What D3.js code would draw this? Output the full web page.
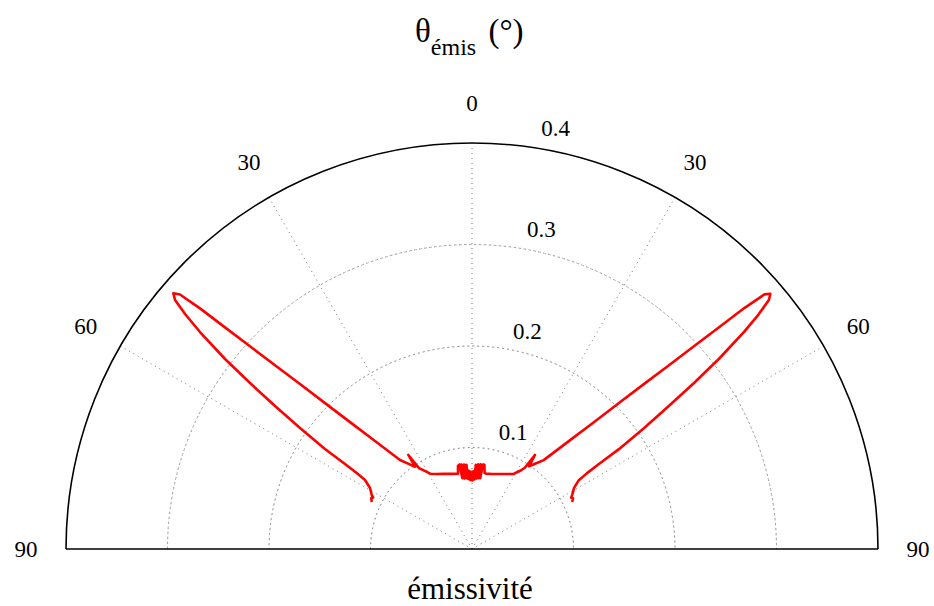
<!DOCTYPE html>
<html>
<head>
<meta charset="utf-8">
<script src="https://cdn.jsdelivr.net/npm/d3@7"></script>
<style>
  html, body { margin: 0; padding: 0; background: #fff; }
  svg { display: block; }
  text { font-family: "Liberation Serif", "Times New Roman", serif; fill: #000; }
</style>
</head>
<body>
<svg id="chart" width="934" height="606"></svg>
<script>
// ---- data (path order, angle in degrees from the normal, left negative) ----
const angles = [
  -64.9, -63.2, -62.5, -61.7, -59.1, -57.2, -56.64, -56.2, -55.77, -54.87, -54.03, -53.21,
  -52.43, -51.42, -50.69, -50.02, -49.43, -48.92, -48.83, -48.5, -48.1, -47.6, -46.99, -46.2,
  -45.22, -43.87, -41.93, -38.97, -36.5, -34.7, -34.1, -33.2, -31.7, -29.0, -26.0, -20.0,
  -15.0, -10.5, -9.6, -8.4, -7.8, -7.0, -6.2, -5.4, -4.6, -3.8, -3.0, -2.2, -1.4, -0.6, 0.2,
  1.0, 1.8, 2.6, 3.4, 4.2, 5.0, 5.8, 6.6, 7.4, 8.4, 9.4, 10.5, 15.0, 20.0, 26.0, 29.0, 31.8, 33.0, 33.8, 34.6,
  36.5, 38.9, 41.9, 43.9, 45.2, 46.2, 47.0, 47.6, 48.1, 48.5, 48.85, 48.95, 49.45,
  50.0, 50.7, 51.4, 52.4, 53.2, 54.0, 54.9, 55.8, 56.2, 56.6, 57.2, 59.1, 61.7, 62.6,
  63.3, 64.9
];
const emissivity = [
  0.1091, 0.1112, 0.1098, 0.1122, 0.1171, 0.1254, 0.1356, 0.1506, 0.1752, 0.2072, 0.2398, 0.2731,
  0.3070, 0.3428, 0.3654, 0.3818, 0.3874, 0.3816, 0.3757, 0.3578, 0.3270, 0.2962, 0.2654, 0.2348,
  0.2040, 0.1734, 0.1430, 0.1128, 0.1040, 0.0986, 0.1119, 0.0950, 0.0914, 0.0848, 0.0822, 0.0788,
  0.0766, 0.0755, 0.0830, 0.0842, 0.0705, 0.0838, 0.0698, 0.0836, 0.0700, 0.0832, 0.0690, 0.0770, 0.0680, 0.0760, 0.0675,
  0.0765, 0.0685, 0.0830, 0.0695, 0.0836, 0.0700, 0.0838, 0.0702, 0.0840, 0.0838, 0.0760, 0.0755, 0.0765, 0.0786, 0.0822, 0.0846, 0.0910, 0.0955, 0.1115, 0.0990,
  0.1045, 0.1125, 0.1428, 0.1736, 0.2045, 0.2350, 0.2658, 0.2965, 0.3275, 0.3582, 0.3760, 0.3820, 0.3868,
  0.3820, 0.3650, 0.3430, 0.3072, 0.2735, 0.2400, 0.2070, 0.1750, 0.1505, 0.1358, 0.1252, 0.1172, 0.1120, 0.1100,
  0.1114, 0.1090
];
const angleTicks = [-90, -60, -30, 0, 30, 60, 90];
const angleTickLabels = ["90", "60", "30", "0", "30", "60", "90"];
const radialTicks = [0.1, 0.2, 0.3, 0.4];
const radialTickLabels = ["0.1", "0.2", "0.3", "0.4"];
const spokeAngles = [-60, -30, 0, 30, 60];

// ---- layout ----
const svg = d3.select("#chart");
const cx = 472, cy = 549, R = 406;
const rScale = d3.scaleLinear().domain([0, 0.4]).range([0, R]);
const rad = d => d * Math.PI / 180;

const g = svg.append("g").attr("transform", `translate(${cx},${cy})`);

// dotted grid circles
const arcGen = d3.arc().startAngle(-Math.PI / 2).endAngle(Math.PI / 2);
g.selectAll("path.grid")
  .data(radialTicks.slice(0, -1))
  .join("path")
  .attr("class", "grid")
  .attr("d", v => arcGen({innerRadius: rScale(v), outerRadius: rScale(v)}))
  .attr("fill", "none")
  .attr("stroke", "#777")
  .attr("stroke-width", 1)
  .attr("stroke-dasharray", "1,4");

// dotted spokes
g.selectAll("line.spoke")
  .data(spokeAngles)
  .join("line")
  .attr("class", "spoke")
  .attr("x1", 0).attr("y1", 0)
  .attr("x2", a => R * Math.sin(rad(a)))
  .attr("y2", a => -R * Math.cos(rad(a)))
  .attr("stroke", "#777")
  .attr("stroke-width", 1)
  .attr("stroke-dasharray", "1,4");

// outer boundary
g.append("path")
  .attr("d", arcGen({innerRadius: R, outerRadius: R}))
  .attr("fill", "none")
  .attr("stroke", "#000")
  .attr("stroke-width", 1.6);
g.append("line")
  .attr("x1", -R).attr("y1", 0).attr("x2", R).attr("y2", 0)
  .attr("stroke", "#000")
  .attr("stroke-width", 1.6);

// angle labels
const labR = R + 40;
g.selectAll("text.alab")
  .data(angleTicks)
  .join("text")
  .attr("class", "alab")
  .attr("x", a => labR * Math.sin(rad(a)))
  .attr("y", a => -labR * Math.cos(rad(a)))
  .attr("text-anchor", "middle")
  .attr("dominant-baseline", "central")
  .attr("font-size", 23)
  .text((a, i) => angleTickLabels[i]);

// radial labels
g.selectAll("text.rlab")
  .data(radialTicks)
  .join("text")
  .attr("class", "rlab")
  .attr("x", v => rScale(v) * Math.sin(rad(8)) + 27)
  .attr("y", v => -rScale(v) - 15)
  .attr("text-anchor", "middle")
  .attr("dominant-baseline", "central")
  .attr("font-size", 23)
  .text((v, i) => radialTickLabels[i]);

// curve
const pts = angles.map((a, i) => ({a, e: emissivity[i]}));
const line = d3.lineRadial()
  .angle(d => rad(d.a))
  .radius(d => rScale(d.e));
g.append("path")
  .datum(pts)
  .attr("d", line)
  .attr("fill", "none")
  .attr("stroke", "#ff0000")
  .attr("stroke-width", 2.6)
  .attr("stroke-linejoin", "round");

// titles
const title = svg.append("text")
  .attr("x", 415).attr("y", 42)
  .attr("font-size", 33);
title.append("tspan").text("θ");
title.append("tspan").attr("font-size", 24).attr("dy", 13).text("émis");
title.append("tspan").attr("dy", -13).attr("dx", 4).text(" (°)");

svg.append("text")
  .attr("x", 470).attr("y", 599)
  .attr("text-anchor", "middle")
  .attr("font-size", 31)
  .text("émissivité");
</script>
</body>
</html>
